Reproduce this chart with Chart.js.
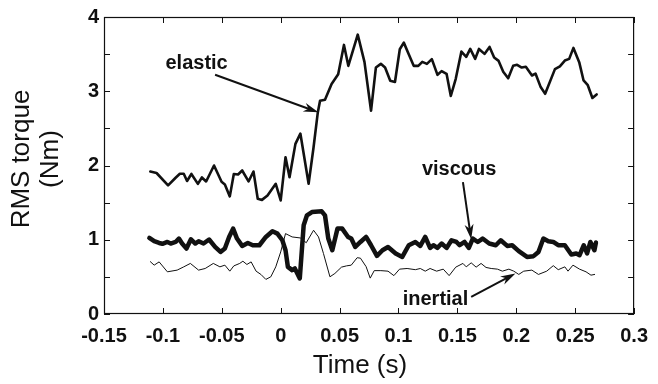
<!DOCTYPE html>
<html>
<head>
<meta charset="utf-8">
<title>RMS torque</title>
<script src="https://cdn.jsdelivr.net/npm/chart.js@4.4.1/dist/chart.umd.min.js"></script>
<style>
    html, body { margin: 0; padding: 0; background: #fff; }
    #wrap { width: 658px; height: 384px; }
</style>
</head>
<body>
<div id="wrap"><canvas id="torqueChart" width="658" height="384"></canvas></div>
<script>
// RMS torque components vs time

const elasticTime = [
    -0.1107, -0.1054, -0.0956, -0.0892, -0.0856, -0.0823, -0.0795, -0.0758, -0.0703, -0.0669,
    -0.0633, -0.0566, -0.0502, -0.0474, -0.0432, -0.0398, -0.0362, -0.0327, -0.0273, -0.0231,
    -0.0195, -0.0159, -0.0112, -0.0042, 0.0000, 0.0041, 0.0075, 0.0125, 0.0167, 0.0237,
    0.0279, 0.0315, 0.0334, 0.0376, 0.0432, 0.0488, 0.0537, 0.0574, 0.0654, 0.0711,
    0.0767, 0.0808, 0.0850, 0.0886, 0.0930, 0.0970, 0.1011, 0.1045, 0.1087, 0.1129,
    0.1168, 0.1202, 0.1241, 0.1283, 0.1331, 0.1366, 0.1408, 0.1444, 0.1486, 0.1534,
    0.1575, 0.1609, 0.1651, 0.1683, 0.1730, 0.1773, 0.1812, 0.1850, 0.1889, 0.1931,
    0.1973, 0.2007, 0.2046, 0.2081, 0.2133, 0.2163, 0.2207, 0.2245, 0.2328, 0.2370,
    0.2412, 0.2449, 0.2485, 0.2534, 0.2571, 0.2607, 0.2646, 0.2682
];
const elasticTorque = [
    1.919, 1.899, 1.732, 1.835, 1.889, 1.889, 1.792, 1.886, 1.752, 1.839,
    1.785, 2.000, 1.781, 1.745, 1.584, 1.886, 1.879, 1.933, 1.785, 1.919,
    1.553, 1.537, 1.597, 1.754, 1.530, 2.111, 1.843, 2.291, 2.430, 1.754,
    2.246, 2.715, 2.872, 2.886, 3.097, 3.230, 3.624, 3.342, 3.762, 3.396,
    2.738, 3.319, 3.369, 3.319, 3.141, 3.125, 3.566, 3.655, 3.499, 3.342,
    3.342, 3.396, 3.369, 3.432, 3.221, 3.271, 3.235, 2.936, 3.168, 3.534,
    3.463, 3.570, 3.436, 3.570, 3.503, 3.597, 3.454, 3.409, 3.262, 3.174,
    3.342, 3.356, 3.319, 3.329, 3.212, 3.238, 3.056, 2.966, 3.298, 3.336,
    3.413, 3.436, 3.584, 3.392, 3.145, 3.081, 2.909, 2.957
];

const viscousTime = [
    -0.1115, -0.1074, -0.1032, -0.1004, -0.0962, -0.0934, -0.0892, -0.0864, -0.0837, -0.0800,
    -0.0762, -0.0725, -0.0697, -0.0655, -0.0608, -0.0557, -0.0511, -0.0474, -0.0438, -0.0404,
    -0.0371, -0.0327, -0.0279, -0.0237, -0.0181, -0.0126, -0.0070, -0.0028, 0.0014, 0.0041,
    0.0061, 0.0097, 0.0120, 0.0162, 0.0195, 0.0223, 0.0265, 0.0348, 0.0376, 0.0404,
    0.0438, 0.0482, 0.0522, 0.0572, 0.0599, 0.0633, 0.0677, 0.0725, 0.0767, 0.0817,
    0.0864, 0.0911, 0.0976, 0.1032, 0.1087, 0.1143, 0.1185, 0.1227, 0.1268, 0.1296,
    0.1330, 0.1366, 0.1408, 0.1450, 0.1492, 0.1519, 0.1561, 0.1597, 0.1631, 0.1673,
    0.1714, 0.1770, 0.1826, 0.1868, 0.1923, 0.1965, 0.2021, 0.2091, 0.2146, 0.2188,
    0.2230, 0.2272, 0.2314, 0.2356, 0.2412, 0.2467, 0.2509, 0.2537, 0.2573, 0.2601,
    0.2629, 0.2663, 0.2676
];
const viscousTorque = [
    1.024, 0.980, 0.957, 0.946, 0.970, 0.949, 0.970, 1.016, 0.949, 0.882,
    1.007, 0.949, 0.980, 0.949, 1.003, 0.903, 0.836, 0.882, 1.038, 1.150,
    1.016, 0.917, 0.957, 0.926, 0.926, 1.038, 1.114, 1.083, 0.993, 0.859,
    0.635, 0.591, 0.613, 0.479, 1.195, 1.329, 1.373, 1.383, 1.329, 1.016,
    0.859, 1.150, 1.150, 1.038, 1.016, 0.903, 0.970, 1.038, 0.926, 0.783,
    0.859, 0.903, 0.815, 0.769, 0.926, 0.970, 0.917, 1.038, 0.890, 0.926,
    0.890, 0.949, 0.890, 0.993, 0.970, 0.926, 0.970, 0.890, 1.016, 0.970,
    1.016, 0.949, 0.926, 0.993, 0.917, 0.926, 0.846, 0.769, 0.779, 0.836,
    1.016, 0.980, 0.970, 0.926, 0.926, 0.801, 0.815, 0.792, 0.926, 0.815,
    0.970, 0.859, 0.962
];

const inertialTime = [
    -0.1107, -0.1074, -0.1032, -0.0962, -0.0879, -0.0823, -0.0767, -0.0697, -0.0641, -0.0572,
    -0.0516, -0.0474, -0.0432, -0.0398, -0.0348, -0.0321, -0.0287, -0.0251, -0.0209, -0.0168,
    -0.0126, -0.0084, -0.0042, 0.0000, 0.0041, 0.0097, 0.0167, 0.0217, 0.0279, 0.0321,
    0.0363, 0.0418, 0.0460, 0.0516, 0.0558, 0.0599, 0.0649, 0.0677, 0.0725, 0.0760,
    0.0794, 0.0850, 0.0911, 0.0961, 0.1009, 0.1073, 0.1143, 0.1185, 0.1227, 0.1268,
    0.1324, 0.1380, 0.1430, 0.1486, 0.1547, 0.1575, 0.1617, 0.1659, 0.1701, 0.1743,
    0.1787, 0.1840, 0.1882, 0.1937, 0.1979, 0.2021, 0.2063, 0.2132, 0.2188, 0.2258,
    0.2314, 0.2356, 0.2412, 0.2439, 0.2481, 0.2537, 0.2592, 0.2634, 0.2665
];
const inertialTorque = [
    0.705, 0.658, 0.702, 0.568, 0.591, 0.635, 0.681, 0.591, 0.613, 0.681,
    0.635, 0.658, 0.577, 0.648, 0.681, 0.711, 0.667, 0.702, 0.577, 0.533,
    0.466, 0.501, 0.635, 0.836, 1.083, 1.038, 1.024, 0.960, 1.128, 1.038,
    0.815, 0.501, 0.546, 0.631, 0.648, 0.658, 0.758, 0.752, 0.638, 0.483,
    0.584, 0.584, 0.577, 0.517, 0.604, 0.613, 0.597, 0.613, 0.577, 0.613,
    0.577, 0.604, 0.517, 0.631, 0.681, 0.635, 0.689, 0.631, 0.681, 0.627,
    0.613, 0.604, 0.577, 0.604, 0.577, 0.533, 0.577, 0.591, 0.533, 0.577,
    0.651, 0.597, 0.635, 0.577, 0.658, 0.604, 0.568, 0.523, 0.533
];

// axis ticks
const xTickValues = [-0.15, -0.1, -0.05, 0, 0.05, 0.1, 0.15, 0.2, 0.25, 0.3];
const yTickValues = [0, 1, 2, 3, 4];
const yMinorTicks = [0, 0.5, 1, 1.5, 2, 2.5, 3, 3.5, 4];
const xTitle = 'Time (s)';
const yTitle = ['RMS torque', '(Nm)'];

// callouts: label, label position, arrow start, arrow tip (data units)
const calloutLabels = ['elastic', 'viscous', 'inertial'];
const calloutText = [[-0.0714, 3.369], [0.1515, 1.946], [0.1314, 0.201]];
const calloutFrom = [[-0.0557, 3.222], [0.1547, 1.776], [0.1617, 0.232]];
const calloutTo = [[0.0320, 2.716], [0.1617, 1.007], [0.1993, 0.546]];

const INK = '#111';
const FONT = "'Liberation Sans', Arial, Helvetica, sans-serif";

function toPoints(xs, ys) {
    return xs.map((t, i) => ({ x: t, y: ys[i] }));
}

function drawArrow(ctx, x1, y1, x2, y2) {
    const ang = Math.atan2(y2 - y1, x2 - x1);
    const len = 15, half = 4.5;
    const c = Math.cos(ang), s = Math.sin(ang);
    ctx.beginPath();
    ctx.moveTo(x1, y1);
    ctx.lineTo(x2 - c * len * 0.6, y2 - s * len * 0.6);
    ctx.stroke();
    ctx.beginPath();
    ctx.moveTo(x2, y2);
    ctx.lineTo(x2 - c * len + s * half, y2 - s * len - c * half);
    ctx.lineTo(x2 - c * len * 0.7, y2 - s * len * 0.7);
    ctx.lineTo(x2 - c * len - s * half, y2 - s * len + c * half);
    ctx.closePath();
    ctx.fill();
}

const frameAndNotes = {
    id: 'frameAndNotes',
    afterDatasetsDraw(chart) {
        const { ctx, chartArea: a, scales: { x, y } } = chart;
        ctx.save();
        ctx.strokeStyle = INK;
        ctx.fillStyle = INK;

        // box
        ctx.lineWidth = 1.2;
        ctx.strokeRect(a.left + 0.5, a.top + 0.5, a.right - a.left - 1, a.bottom - a.top - 1);

        // inward ticks
        ctx.lineWidth = 1;
        ctx.beginPath();
        xTickValues.forEach(v => {
            const px = Math.round(x.getPixelForValue(v)) + 0.5;
            ctx.moveTo(px, a.bottom);
            ctx.lineTo(px, a.bottom - 6);
            ctx.moveTo(px, a.top);
            ctx.lineTo(px, a.top + 6);
        });
        yMinorTicks.forEach(v => {
            const py = Math.round(y.getPixelForValue(v)) + 0.5;
            ctx.moveTo(a.left, py);
            ctx.lineTo(a.left + 6, py);
            ctx.moveTo(a.right, py);
            ctx.lineTo(a.right - 6, py);
        });
        ctx.stroke();

        // callouts
        ctx.lineWidth = 2;
        ctx.font = 'bold 20px ' + FONT;
        ctx.textAlign = 'center';
        ctx.textBaseline = 'middle';
        calloutLabels.forEach((label, i) => {
            ctx.fillText(label, x.getPixelForValue(calloutText[i][0]), y.getPixelForValue(calloutText[i][1]));
            drawArrow(ctx,
                x.getPixelForValue(calloutFrom[i][0]), y.getPixelForValue(calloutFrom[i][1]),
                x.getPixelForValue(calloutTo[i][0]), y.getPixelForValue(calloutTo[i][1]));
        });

        // axis titles
        ctx.font = '26px ' + FONT;
        ctx.fillText(xTitle, 360, 366);
        ctx.translate(22, 159);
        ctx.rotate(-Math.PI / 2);
        ctx.fillText(yTitle[0], 0, 0);
        ctx.fillText(yTitle[1], 0, 29);
        ctx.restore();
    }
};

function createTorqueChart() {
    const ctx = document.getElementById('torqueChart');
    Chart.defaults.font.family = FONT;
    Chart.defaults.color = INK;
    new Chart(ctx, {
        type: 'line',
        data: {
            datasets: [{
                label: 'inertial',
                data: toPoints(inertialTime, inertialTorque),
                borderColor: INK,
                borderWidth: 1
            }, {
                label: 'elastic',
                data: toPoints(elasticTime, elasticTorque),
                borderColor: INK,
                borderWidth: 2.6
            }, {
                label: 'viscous',
                data: toPoints(viscousTime, viscousTorque),
                borderColor: INK,
                borderWidth: 4.5
            }]
        },
        options: {
            responsive: false,
            animation: false,
            devicePixelRatio: 1,
            layout: {
                padding: { top: 16, right: 16, left: 0, bottom: 0 }
            },
            elements: {
                point: { radius: 0 },
                line: { tension: 0, borderJoinStyle: 'round', borderCapStyle: 'round' }
            },
            plugins: {
                legend: { display: false },
                tooltip: { enabled: false }
            },
            scales: {
                x: {
                    type: 'linear',
                    min: -0.15,
                    max: 0.3,
                    afterFit: s => { s.height = 70; },
                    afterBuildTicks: s => { s.ticks = xTickValues.map(v => ({ value: v })); },
                    grid: { display: false, drawTicks: false },
                    border: { display: false },
                    ticks: {
                        autoSkip: false,
                        maxRotation: 0,
                        padding: 10,
                        font: { size: 20, weight: 'bold' },
                        callback: v => String(+v.toFixed(2))
                    }
                },
                y: {
                    min: 0,
                    max: 4,
                    afterFit: s => { s.width = 104; },
                    afterBuildTicks: s => { s.ticks = yTickValues.map(v => ({ value: v })); },
                    grid: { display: false, drawTicks: false },
                    border: { display: false },
                    ticks: {
                        padding: 5,
                        font: { size: 20, weight: 'bold' },
                        callback: v => String(v)
                    }
                }
            }
        },
        plugins: [frameAndNotes]
    });
}

document.addEventListener('DOMContentLoaded', createTorqueChart);
</script>
</body>
</html>
